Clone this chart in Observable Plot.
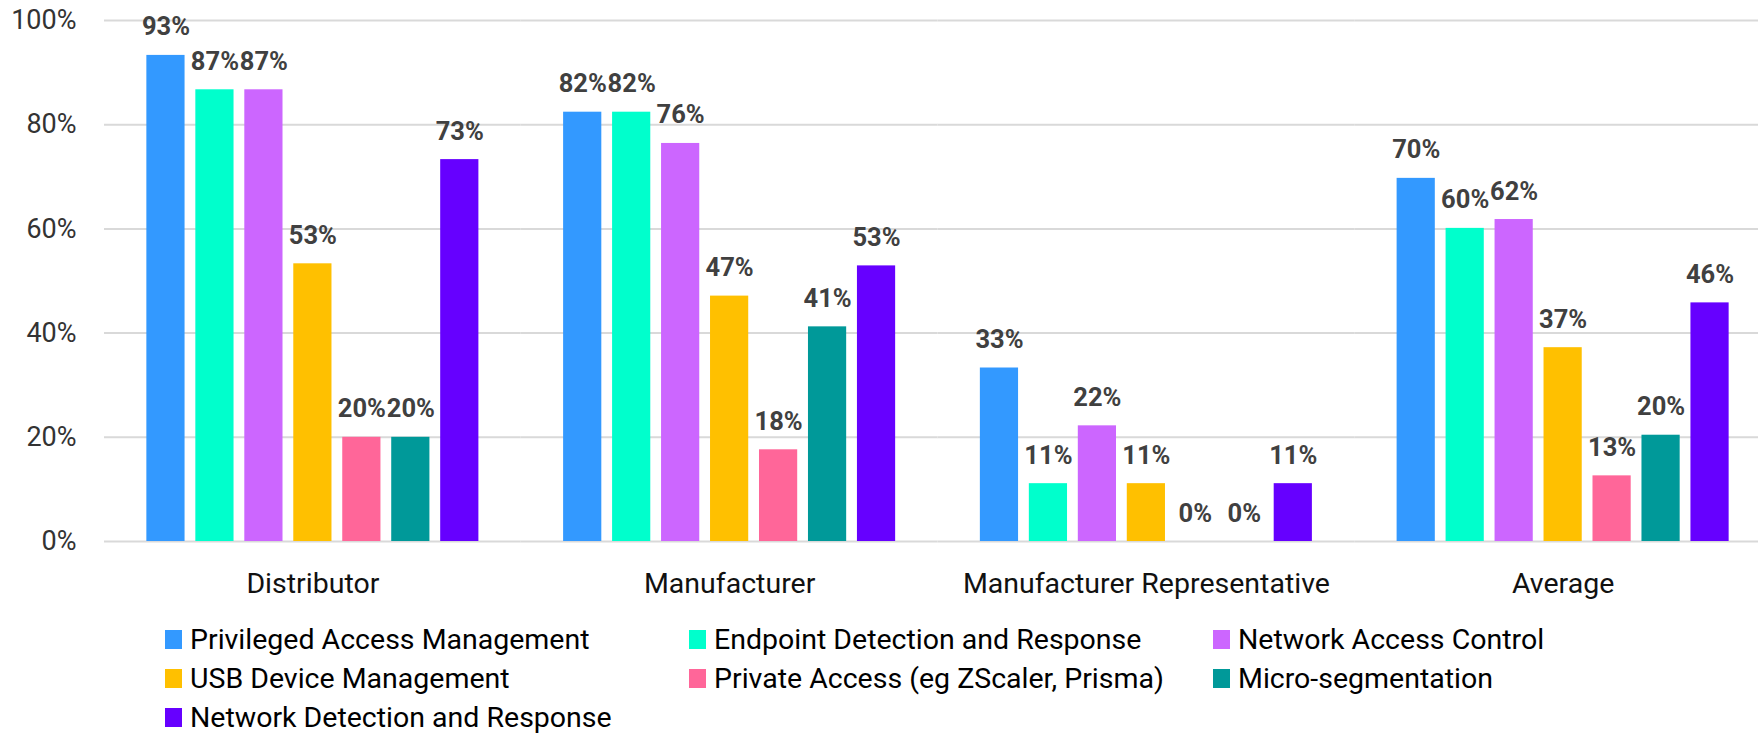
<!DOCTYPE html>
<html>
<head>
<meta charset="utf-8">
<script src="https://cdn.jsdelivr.net/npm/d3@7"></script>
<script src="https://cdn.jsdelivr.net/npm/@observablehq/plot@0.6"></script>
<style>
  html, body { margin: 0; padding: 0; background: #fff; overflow: hidden; }
  #chart svg { display: block; }
  .lg-swatches { font-family: Roboto, sans-serif !important; font-size: 28.5px !important; color: #000; margin: 0 !important; }
  .lg-swatches-wrap { display: flex !important; flex-wrap: wrap !important; min-height: 0 !important; padding-left: 165px; width: 1758px; box-sizing: border-box; }
  .lg-swatch { width: 524px; height: 39px; margin: 0 !important; display: inline-flex; align-items: center; white-space: nowrap; }
  .lg-swatch > svg { margin-right: 8px !important; }
</style>
</head>
<body>
<div id="chart"></div>
<div id="legend"></div>
<script>
const groups = ["Distributor", "Manufacturer", "Manufacturer Representative", "Average"];
const series = [
  "Privileged Access Management",
  "Endpoint Detection and Response",
  "Network Access Control",
  "USB Device Management",
  "Private Access (eg ZScaler, Prisma)",
  "Micro-segmentation",
  "Network Detection and Response"
];
const colors = ["#3399FF", "#00FFCC", "#CC66FF", "#FFC000", "#FF6699", "#009999", "#6600FF"];

const distributor     = [0.933, 0.867, 0.867, 0.533, 0.200, 0.200, 0.733];
const manufacturer    = [0.824, 0.824, 0.764, 0.471, 0.176, 0.412, 0.529];
const manufacturerRep = [0.333, 0.111, 0.222, 0.111, 0.000, 0.000, 0.111];
const average         = [0.697, 0.601, 0.618, 0.372, 0.126, 0.204, 0.458];

const yTicks = [0, 0.2, 0.4, 0.6, 0.8, 1.0];

const rows = [distributor, manufacturer, manufacturerRep, average];
const data = groups.flatMap((g, i) => series.map((s, j) => ({group: g, series: s, value: rows[i][j]})));
const pct = d3.format(".0%");

const chart = Plot.plot({
  width: 1758,
  height: 620,
  marginTop: 20,
  marginBottom: 79,
  marginLeft: 104,
  marginRight: -13,
  style: {fontFamily: "Roboto, sans-serif", background: "#fff"},
  fx: {domain: groups, padding: 0, round: false, label: null},
  x: {domain: series, axis: null, paddingInner: 0.22, paddingOuter: 0.865, round: false},
  y: {domain: [0, 1], label: null},
  color: {domain: series, range: colors},
  marks: [
    Plot.gridY(yTicks, {stroke: "#d9d9d9", strokeOpacity: 1, strokeWidth: 2}),
    Plot.axisY({ticks: yTicks, tickFormat: pct, tickSize: 0, tickPadding: 28, fontSize: 27, fill: "#333", label: null}),
    Plot.axisFx({anchor: "bottom", tickSize: 0, tickPadding: 31, fontSize: 28.5, fill: "#111", label: null}),
    Plot.barY(data, {fx: "group", x: "series", y: "value", fill: "series"}),
    Plot.text(data, {
      fx: "group", x: "series", y: "value",
      text: d => pct(d.value),
      lineAnchor: "bottom", dy: -20,
      fontSize: 25.5, fontWeight: "bold", fill: "#404040"
    })
  ]
});
document.getElementById("chart").appendChild(chart);

const legend = Plot.legend({
  color: {domain: series, range: colors, type: "ordinal"},
  legend: "swatches",
  className: "lg",
  swatchWidth: 17,
  swatchHeight: 19
});
document.getElementById("legend").appendChild(legend);
</script>
</body>
</html>
